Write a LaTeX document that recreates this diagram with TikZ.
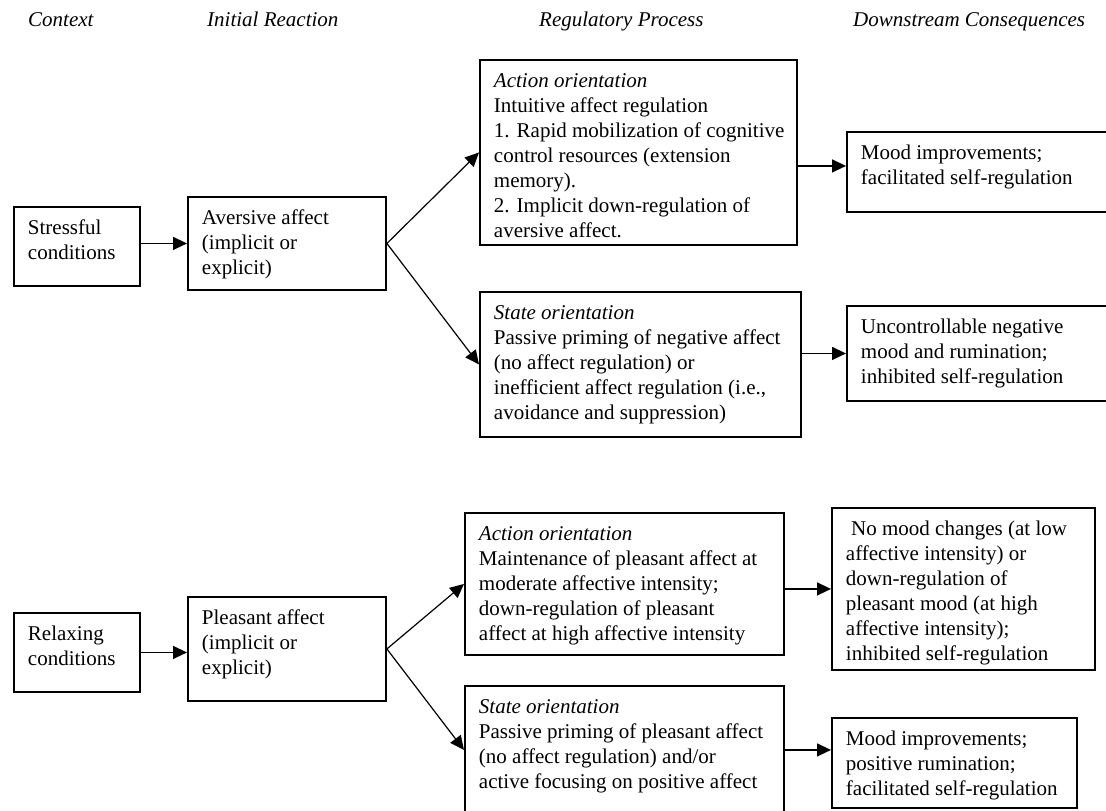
\documentclass[tikz,border=0pt]{standalone}
\usepackage{fontspec}
\setmainfont{Liberation Serif}
\usetikzlibrary{arrows.meta,calc}

% box text: width, height (pt), lines
\newcommand{\cell}[3]{\parbox[c][\dimexpr#2pt-21pt\relax][t]{\dimexpr#1pt-28pt\relax}{\begin{tabular}[t]{@{}l@{}}#3\end{tabular}}}

\tikzset{
    stage/.style={draw, line width=1.9pt, anchor=north west, inner xsep=14pt, inner ysep=10.5pt, font=\fontsize{21}{25}\selectfont},
    colhead/.style={anchor=base west, inner sep=0pt, font=\fontsize{21}{25}\selectfont\itshape},
    flow/.style={line width=1.4pt, -{Triangle[length=14pt,width=13pt]}}
}

\begin{document}
\begin{tikzpicture}[x=1pt, y=-1pt]
        \useasboundingbox (0,0) rectangle (1106,811);

        % Column headings
        \node[colhead] (hcontext) at (28,26) {Context};
        \node[colhead] (hreact) at (207,26) {Initial Reaction};
        \node[colhead] (hprocess) at (539,26) {Regulatory Process};
        \node[colhead] (hconseq) at (853,26) {Downstream Consequences};

        % Stressful conditions branch
        \node[stage] (stress) at (13,206) {\cell{126}{79}{Stressful\\conditions}};
        \node[stage] (avers) at (187,196) {\cell{198}{93}{Aversive affect\\(implicit or\\explicit)}};
        \node[stage] (actA) at (479,59) {\cell{317}{185}{\textit{Action orientation}\\Intuitive affect regulation\\1. Rapid mobilization of cognitive\\control resources (extension\\memory).\\2. Implicit down-regulation of\\aversive affect.}};
        \node[stage] (stateA) at (479,291) {\cell{321}{145}{\textit{State orientation}\\Passive priming of negative affect\\(no affect regulation) or\\inefficient affect regulation (i.e.,\\avoidance and suppression)}};
        \node[stage] (moodA) at (846,131) {\cell{264}{80}{Mood improvements;\\facilitated self-regulation}};
        \node[stage] (moodB) at (846,305) {\cell{264}{95}{Uncontrollable negative\\mood and rumination;\\inhibited self-regulation}};

        % Relaxing conditions branch
        \node[stage] (relax) at (13,612) {\cell{126}{79}{Relaxing\\conditions}};
        \node[stage] (pleas) at (187,596) {\cell{198}{104}{Pleasant affect\\(implicit or\\explicit)}};
        \node[stage] (actB) at (464,512) {\cell{319}{142}{\textit{Action orientation}\\Maintenance of pleasant affect at\\moderate affective intensity;\\down-regulation of pleasant\\affect at high affective intensity}};
        \node[stage] (stateB) at (464,685) {\cell{319}{128}{\textit{State orientation}\\Passive priming of pleasant affect\\(no affect regulation) and/or\\active focusing on positive affect}};
        \node[stage] (moodC) at (831,507) {\cell{263}{162}{~No mood changes (at low\\affective intensity) or\\down-regulation of\\pleasant mood (at high\\affective intensity);\\inhibited self-regulation}};
        \node[stage] (moodD) at (831,717) {\cell{245}{90}{Mood improvements;\\positive rumination;\\facilitated self-regulation}};

        % Arrows
        \draw[flow] (avers.west -| stress.east) -- (avers.west);
        \draw[flow, line width=1.2pt] (avers.east) -- (actA.west);
        \draw[flow, line width=1.2pt] (avers.east) -- (stateA.west);
        \draw[flow] ([yshift=6pt]moodA.west -| actA.east) -- ([yshift=6pt]moodA.west);
        \draw[flow] (moodB.west -| stateA.east) -- (moodB.west);

        \draw[flow] (relax.east) -- (relax.east -| pleas.west);
        \draw[flow, line width=1.2pt] (pleas.east) -- (actB.west);
        \draw[flow, line width=1.2pt] (pleas.east) -- (stateB.west);
        \draw[flow] (moodC.west -| actB.east) -- (moodC.west);
        \draw[flow] (stateB.east) -- (stateB.east -| moodD.west);
    \end{tikzpicture}
\end{document}
